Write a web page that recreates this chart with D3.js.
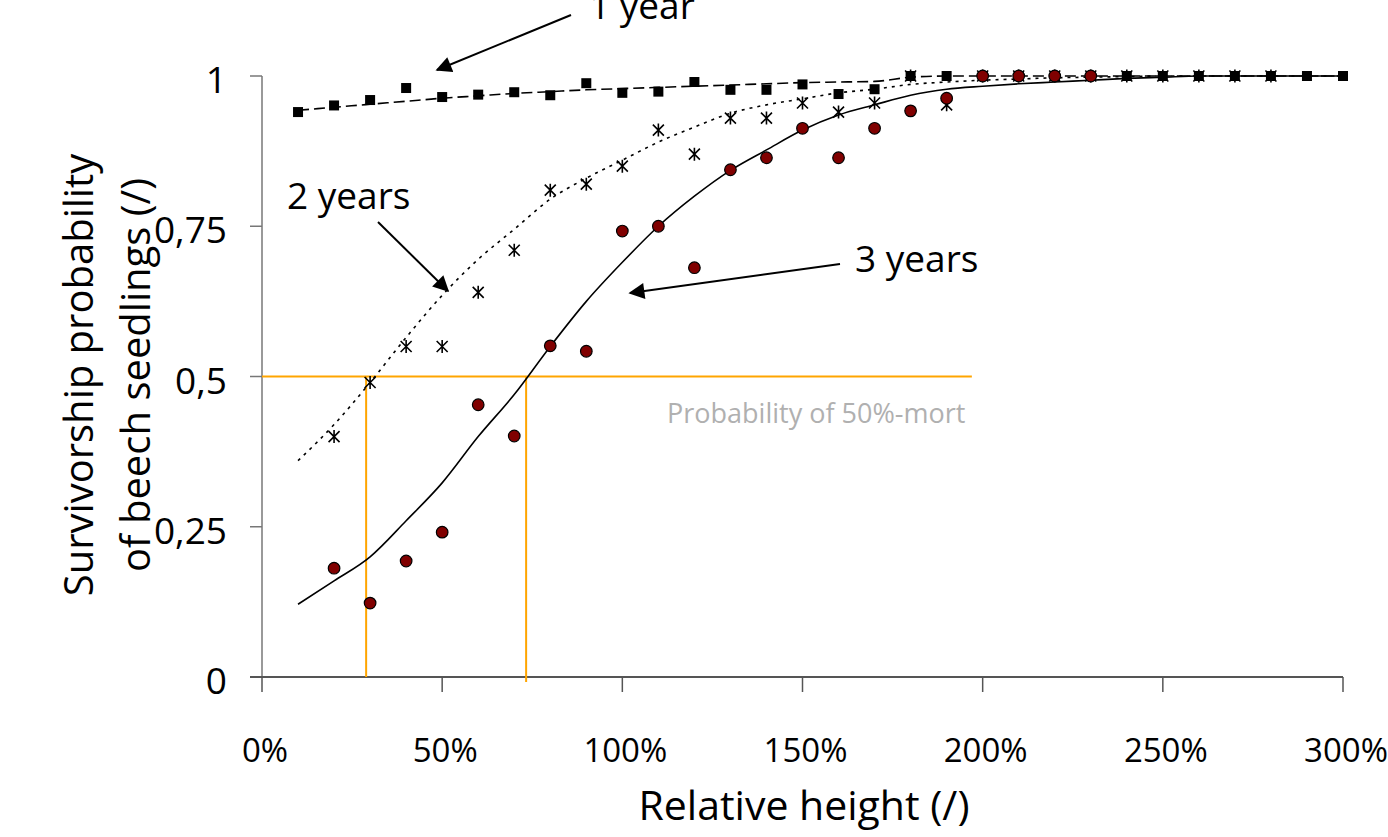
<!DOCTYPE html>
<html>
<head>
<meta charset="utf-8">
<script src="https://cdn.jsdelivr.net/npm/d3@7"></script>
<style>
  body { margin: 0; background: #fff; }
  text { font-family: "Open Sans", "Noto Sans", sans-serif; }
</style>
</head>
<body>
<div id="chart"></div>
<script>
// observed points (x in % of relative height)
const xObs = [10, 20, 30, 40, 50, 60, 70, 80, 90, 100, 110, 120, 130, 140, 150, 160, 170, 180, 190, 200,
  210, 220, 230, 240, 250, 260, 270, 280, 290, 300];

const year1 = [0.94, 0.951, 0.96, 0.98, 0.965, 0.969, 0.973, 0.968, 0.988, 0.972, 0.974, 0.99, 0.977, 0.977,
  0.986, 0.97, 0.978, 1, 1, 1, 1, 1, 1, 1, 1, 1, 1, 1, 1, 1];

const x2 = [20, 30, 40, 50, 60, 70, 80, 90, 100, 110, 120, 130, 140, 150, 160, 170, 180, 190, 200, 210, 220,
  230, 240, 250, 260, 270, 280];
const year2 = [0.4, 0.49, 0.55, 0.55, 0.64, 0.71, 0.81, 0.82, 0.85, 0.91, 0.87, 0.93, 0.93, 0.955, 0.94, 0.955,
  1, 0.952, 1, 1, 1, 1, 1, 1, 1, 1, 1];

const x3 = [20, 30, 40, 50, 60, 70, 80, 90, 100, 110, 120, 130, 140, 150, 160, 170, 180, 190, 200, 210, 220, 230];
const year3 = [0.181, 0.123, 0.193, 0.241, 0.453, 0.401, 0.551, 0.542, 0.742, 0.75, 0.681, 0.844, 0.864, 0.913,
  0.864, 0.913, 0.942, 0.963, 1, 1, 1, 1];

// fitted curves, same x as xObs
const fit1 = [0.943, 0.948, 0.953, 0.958, 0.963, 0.967, 0.971, 0.974, 0.977, 0.979, 0.981, 0.983, 0.985, 0.987,
  0.989, 0.99, 0.991, 0.998, 1, 1, 1, 1, 1, 1, 1, 1, 1, 1, 1, 1];
const fit2 = [0.36, 0.42, 0.49, 0.565, 0.635, 0.695, 0.745, 0.795, 0.83, 0.86, 0.89, 0.915, 0.938, 0.952, 0.962,
  0.972, 0.978, 0.986, 0.99, 0.993, 0.995, 0.997, 0.998, 0.999, 1, 1, 1, 1, 1, 1];
const fit3 = [0.121, 0.16, 0.2, 0.26, 0.323, 0.4, 0.47, 0.55, 0.625, 0.69, 0.75, 0.8, 0.843, 0.877, 0.91, 0.935,
  0.952, 0.968, 0.978, 0.983, 0.987, 0.99, 0.993, 0.996, 0.998, 1, 1, 1, 1, 1];

const xTicks = [0, 50, 100, 150, 200, 250, 300];
const yTicks = [0, 0.25, 0.5, 0.75, 1];
const yTickLabels = ["0", "0,25", "0,5", "0,75", "1"];

// 50% mortality guide: crossing heights and end of horizontal line
const cross50 = [28.9, 73.3];
const guideEnd = 197;

const width = 1388,
  height = 837;

const svg = d3
  .select("#chart")
  .append("svg")
  .attr("width", width)
  .attr("height", height);

const x = d3.scaleLinear().domain([0, 300]).range([262, 1343]);
const y = d3.scaleLinear().domain([0, 1]).range([677, 76]);

// axes
svg.append("line")
  .attr("x1", x(0)).attr("x2", x(0))
  .attr("y1", y(1)).attr("y2", y(0))
  .attr("stroke", "#777").attr("stroke-width", 1.5);

svg.selectAll(".ytick")
  .data(yTicks)
  .enter()
  .append("line")
  .attr("x1", x(0) - 12).attr("x2", x(0))
  .attr("y1", (d) => y(d)).attr("y2", (d) => y(d))
  .attr("stroke", "#777").attr("stroke-width", 1.5);

svg.selectAll(".ylab")
  .data(yTicks)
  .enter()
  .append("text")
  .attr("x", 227)
  .attr("y", (d) => y(d) + 17)
  .attr("text-anchor", "end")
  .attr("font-size", 37)
  .text((d, i) => yTickLabels[i]);

svg.append("line")
  .attr("x1", x(0) - 12).attr("x2", x(300))
  .attr("y1", y(0)).attr("y2", y(0))
  .attr("stroke", "#555").attr("stroke-width", 2);

svg.selectAll(".xtick")
  .data(xTicks)
  .enter()
  .append("line")
  .attr("x1", (d) => x(d)).attr("x2", (d) => x(d))
  .attr("y1", y(0)).attr("y2", y(0) + 15)
  .attr("stroke", "#555").attr("stroke-width", 1.5);

svg.selectAll(".xlab")
  .data(xTicks)
  .enter()
  .append("text")
  .attr("x", (d) => x(d) + 3)
  .attr("y", 762)
  .attr("text-anchor", "middle")
  .attr("font-size", 33)
  .text((d) => d + "%");

svg.append("text")
  .attr("x", 804)
  .attr("y", 820)
  .attr("text-anchor", "middle")
  .attr("font-size", 41)
  .text("Relative height (/)");

const yTitle = svg.append("text")
  .attr("transform", "translate(0,375) rotate(-90)")
  .attr("text-anchor", "middle")
  .attr("font-size", 40);
yTitle.append("tspan").attr("x", 0).attr("y", 93).text("Survivorship probability");
yTitle.append("tspan").attr("x", 0).attr("y", 150).text("of beech seedlings (/)");

// orange 50% guide
const orange = "#FFA500";
svg.append("line")
  .attr("x1", x(0)).attr("x2", x(guideEnd))
  .attr("y1", y(0.5)).attr("y2", y(0.5))
  .attr("stroke", orange).attr("stroke-width", 2);

svg.selectAll(".vguide")
  .data(cross50)
  .enter()
  .append("line")
  .attr("x1", (d) => x(d)).attr("x2", (d) => x(d))
  .attr("y1", y(0.5)).attr("y2", (d, i) => y(0) + (i === 1 ? 5 : 0))
  .attr("stroke", orange).attr("stroke-width", 2);

svg.append("text")
  .attr("x", 667)
  .attr("y", 423)
  .attr("font-size", 27)
  .attr("fill", "#b0b0b0")
  .text("Probability of 50%-mort");

// fitted curves
const line = d3
  .line()
  .x((d) => x(d[0]))
  .y((d) => y(d[1]))
  .curve(d3.curveMonotoneX);

svg.append("path")
  .datum(d3.zip(xObs, fit1))
  .attr("d", line)
  .attr("fill", "none")
  .attr("stroke", "#000")
  .attr("stroke-width", 1.6)
  .attr("stroke-dasharray", "11,5");

svg.append("path")
  .datum(d3.zip(xObs, fit2))
  .attr("d", line)
  .attr("fill", "none")
  .attr("stroke", "#000")
  .attr("stroke-width", 1.6)
  .attr("stroke-dasharray", "3,5");

svg.append("path")
  .datum(d3.zip(xObs, fit3))
  .attr("d", line)
  .attr("fill", "none")
  .attr("stroke", "#000")
  .attr("stroke-width", 1.6);

// markers: squares, stars, circles
svg.selectAll(".sq")
  .data(d3.zip(xObs, year1))
  .enter()
  .append("rect")
  .attr("x", (d) => x(d[0]) - 5)
  .attr("y", (d) => y(d[1]) - 5)
  .attr("width", 10)
  .attr("height", 10)
  .attr("fill", "#000");

svg.selectAll(".star")
  .data(d3.zip(x2, year2))
  .enter()
  .append("path")
  .attr("d", (d) => {
    const cx = x(d[0]), cy = y(d[1]), r = 5.5;
    return `M${cx - r},${cy - r}L${cx + r},${cy + r}M${cx - r},${cy + r}L${cx + r},${cy - r}` +
      `M${cx},${cy - r - 1}L${cx},${cy + r + 1}`;
  })
  .attr("stroke", "#000")
  .attr("stroke-width", 1.6)
  .attr("fill", "none");

svg.selectAll(".dot")
  .data(d3.zip(x3, year3))
  .enter()
  .append("circle")
  .attr("cx", (d) => x(d[0]))
  .attr("cy", (d) => y(d[1]))
  .attr("r", 5.8)
  .attr("fill", "#800000")
  .attr("stroke", "#000")
  .attr("stroke-width", 1.2);

// annotations with arrows
svg.append("defs")
  .append("marker")
  .attr("id", "arrow")
  .attr("viewBox", "0 0 10 10")
  .attr("refX", 9)
  .attr("refY", 5)
  .attr("markerWidth", 20)
  .attr("markerHeight", 16)
  .attr("markerUnits", "userSpaceOnUse")
  .attr("orient", "auto")
  .append("path")
  .attr("d", "M0,0L10,5L0,10z")
  .attr("fill", "#000");

const notes = [
  { label: "1 year", tx: 589, ty: 19, from: [571, 15], to: [437, 70] },
  { label: "2 years", tx: 287, ty: 209, from: [378, 222], to: [448, 291] },
  { label: "3 years", tx: 855, ty: 272, from: [840, 264], to: [630, 293] },
];

notes.forEach((n) => {
  svg.append("text")
    .attr("x", n.tx)
    .attr("y", n.ty)
    .attr("font-size", 37)
    .text(n.label);
  svg.append("line")
    .attr("x1", n.from[0]).attr("y1", n.from[1])
    .attr("x2", n.to[0]).attr("y2", n.to[1])
    .attr("stroke", "#000")
    .attr("stroke-width", 2)
    .attr("marker-end", "url(#arrow)");
});
</script>
</body>
</html>
